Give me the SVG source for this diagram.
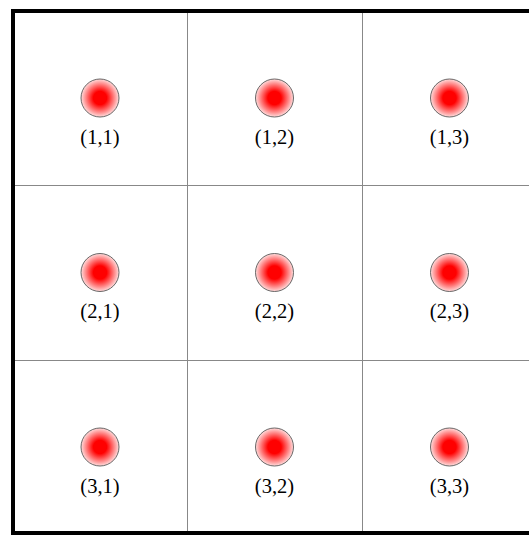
<svg xmlns="http://www.w3.org/2000/svg" width="529" height="536" viewBox="0 0 529 536">
<defs>
<radialGradient id="rg" cx="0.5" cy="0.5" r="0.5">
<stop offset="0" stop-color="#ff0000"/>
<stop offset="0.35" stop-color="#ff0000"/>
<stop offset="1" stop-color="#ffdede"/>
</radialGradient>
</defs>
<style>
.grid{stroke:#888;stroke-width:1;fill:none}
.frame{stroke:#000;stroke-width:4;fill:none}
.dot{fill:url(#rg);stroke:#444;stroke-width:0.8}
.lbl{font-family:"Liberation Serif",serif;font-size:20.5px;text-anchor:middle;fill:#000}
</style>
<rect x="0" y="0" width="529" height="536" fill="#fff"/>
<g id="connectors">
<line class="grid" x1="187.5" y1="11" x2="187.5" y2="534"/>
<line class="grid" x1="362.5" y1="11" x2="362.5" y2="534"/>
<line class="grid" x1="13" y1="185.5" x2="529" y2="185.5"/>
<line class="grid" x1="13" y1="360.5" x2="529" y2="360.5"/>
<path class="frame" d="M529,11 H13 V533 H529"/>
</g>
<g id="n11"><circle class="dot" cx="100" cy="98" r="19"/><text class="lbl" x="100" y="143.5">(1,1)</text></g>
<g id="n12"><circle class="dot" cx="274.5" cy="98" r="19"/><text class="lbl" x="274.5" y="143.5">(1,2)</text></g>
<g id="n13"><circle class="dot" cx="449.5" cy="98" r="19"/><text class="lbl" x="449.5" y="143.5">(1,3)</text></g>
<g id="n21"><circle class="dot" cx="100" cy="272.5" r="19"/><text class="lbl" x="100" y="318">(2,1)</text></g>
<g id="n22"><circle class="dot" cx="274.5" cy="272.5" r="19"/><text class="lbl" x="274.5" y="318">(2,2)</text></g>
<g id="n23"><circle class="dot" cx="449.5" cy="272.5" r="19"/><text class="lbl" x="449.5" y="318">(2,3)</text></g>
<g id="n31"><circle class="dot" cx="100" cy="447" r="19"/><text class="lbl" x="100" y="492.5">(3,1)</text></g>
<g id="n32"><circle class="dot" cx="274.5" cy="447" r="19"/><text class="lbl" x="274.5" y="492.5">(3,2)</text></g>
<g id="n33"><circle class="dot" cx="449.5" cy="447" r="19"/><text class="lbl" x="449.5" y="492.5">(3,3)</text></g>
</svg>
